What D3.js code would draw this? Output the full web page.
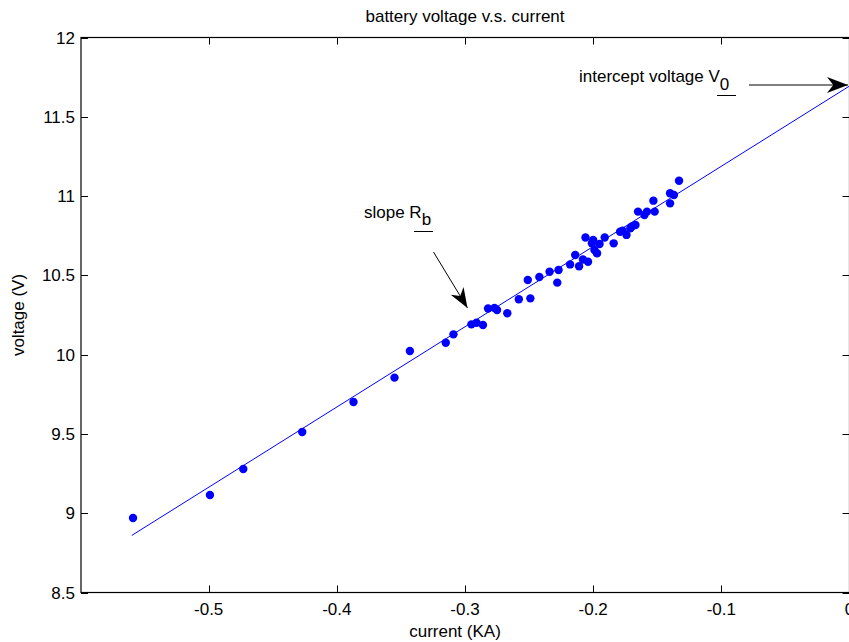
<!DOCTYPE html>
<html>
<head>
<meta charset="utf-8">
<script src="https://cdn.jsdelivr.net/npm/d3@7"></script>
<style>
html,body{margin:0;padding:0;background:#fff;overflow:hidden;}
text{font-family:"Liberation Sans",Arial,Helvetica,sans-serif;fill:#000;}
</style>
</head>
<body>
<svg id="chart" width="849" height="642"></svg>
<script>
// measured data: current (KA) and battery voltage (V)
const current = [-0.559,-0.499,-0.473,-0.427,-0.387,-0.355,-0.343,-0.315,-0.309,-0.295,-0.291,-0.286,-0.282,-0.277,-0.275,-0.267,-0.258,-0.251,-0.249,-0.242,-0.234,-0.228,-0.227,-0.218,-0.214,-0.211,-0.208,-0.206,-0.204,-0.201,-0.200,-0.199,-0.197,-0.195,-0.191,-0.184,-0.179,-0.177,-0.174,-0.171,-0.170,-0.167,-0.165,-0.160,-0.158,-0.153,-0.152,-0.140,-0.140,-0.137,-0.133];
const voltage = [8.970,9.115,9.279,9.512,9.701,9.855,10.023,10.075,10.128,10.191,10.201,10.187,10.291,10.294,10.282,10.261,10.349,10.471,10.355,10.490,10.523,10.454,10.534,10.569,10.628,10.557,10.600,10.739,10.586,10.702,10.723,10.660,10.639,10.698,10.739,10.702,10.775,10.782,10.755,10.797,10.807,10.818,10.902,10.881,10.902,10.971,10.902,10.954,11.018,11.007,11.097];
// least squares fit line
const fitCurrent = [-0.56, 0.0];
const fitVoltage = [8.86, 11.694];
// axes
const xDomain = [-0.6, 0.0];
const yDomain = [8.5, 12];
const xTicks = [-0.5, -0.4, -0.3, -0.2, -0.1, 0];
const xTickLabels = ["-0.5", "-0.4", "-0.3", "-0.2", "-0.1", "0"];
const yTicks = [8.5, 9, 9.5, 10, 10.5, 11, 11.5, 12];
const yTickLabels = ["8.5", "9", "9.5", "10", "10.5", "11", "11.5", "12"];
const titleText = "battery voltage v.s. current";
const xLabelText = "current (KA)";
const yLabelText = "voltage (V)";

const L = 81, R = 849.5, T = 37.5, B = 592.5;
const FS = 17;
const svg = d3.select("#chart");
const x = d3.scaleLinear().domain(xDomain).range([80.5, R]);
const y = d3.scaleLinear().domain(yDomain).range([B, T]);

// frame
const g = svg.append("g");
g.append("rect").attr("x", L).attr("y", T).attr("width", R - L).attr("height", B - T)
  .attr("fill", "none").attr("stroke", "#000").attr("stroke-width", 1.2);

// ticks (inward, MATLAB style)
const tl = 7;
xTicks.forEach((v, i) => {
  const px = Math.round(x(v)) + 0.5;
  g.append("line").attr("x1", px).attr("x2", px).attr("y1", B).attr("y2", B - tl).attr("stroke", "#000");
  g.append("line").attr("x1", px).attr("x2", px).attr("y1", T).attr("y2", T + tl).attr("stroke", "#000");
  g.append("text").attr("x", x(v)).attr("y", B + 22).attr("text-anchor", "middle")
    .attr("font-size", FS).text(xTickLabels[i]);
});
yTicks.forEach((v, i) => {
  const py = Math.round(y(v)) + 0.5;
  g.append("line").attr("x1", L).attr("x2", L + tl).attr("y1", py).attr("y2", py).attr("stroke", "#000");
  g.append("line").attr("x1", R).attr("x2", R - tl).attr("y1", py).attr("y2", py).attr("stroke", "#000");
  g.append("text").attr("x", L - 6).attr("y", y(v)).attr("dy", "0.36em").attr("text-anchor", "end")
    .attr("font-size", FS).text(yTickLabels[i]);
});

// fit line
const line = d3.line().x(d => x(d[0])).y(d => y(d[1]));
svg.append("path").datum(d3.zip(fitCurrent, fitVoltage)).attr("d", line)
  .attr("fill", "none").attr("stroke", "#0000ff").attr("stroke-width", 1);

// points
svg.append("g").selectAll("circle").data(d3.zip(current, voltage)).join("circle")
  .attr("cx", d => x(d[0])).attr("cy", d => y(d[1])).attr("r", 4.2).attr("fill", "#0000ff");

// labels
svg.append("text").attr("x", (80.5 + R) / 2).attr("y", 22).attr("text-anchor", "middle")
  .attr("font-size", FS).text(titleText);
svg.append("text").attr("x", 455).attr("y", 637).attr("text-anchor", "middle")
  .attr("font-size", FS).text(xLabelText);
svg.append("text").attr("transform", "translate(24," + ((T + B) / 2) + ") rotate(-90)")
  .attr("text-anchor", "middle").attr("font-size", FS).text(yLabelText);

// annotations
function arrow(x1, y1, x2, y2, len, w) {
  svg.append("line").attr("x1", x1).attr("y1", y1).attr("x2", x2).attr("y2", y2)
    .attr("stroke", "#000").attr("stroke-width", 1);
  const a = Math.atan2(y2 - y1, x2 - x1);
  const pts = [[0, 0], [-len, -w], [-len * 0.7, 0], [-len, w]];
  svg.append("path")
    .attr("d", "M" + pts.map(p => p.join(",")).join("L") + "Z")
    .attr("transform", "translate(" + x2 + "," + y2 + ") rotate(" + (a * 180 / Math.PI) + ")")
    .attr("fill", "#000");
}
// intercept voltage V0
const t1 = svg.append("text").attr("x", 579).attr("y", 82).attr("font-size", FS);
t1.append("tspan").text("intercept voltage V");
t1.append("tspan").attr("dy", 8).attr("font-size", FS).text("0");
svg.append("line").attr("x1", 717).attr("x2", 736).attr("y1", 95.5).attr("y2", 95.5).attr("stroke", "#000");
arrow(749, 85, 848, 85, 21, 8);

// slope Rb
const t2 = svg.append("text").attr("x", 364).attr("y", 218).attr("font-size", FS);
t2.append("tspan").text("slope R");
t2.append("tspan").attr("dy", 7).attr("font-size", FS).text("b");
svg.append("line").attr("x1", 414).attr("x2", 433).attr("y1", 231.5).attr("y2", 231.5).attr("stroke", "#000");
arrow(433.5, 252, 467.5, 308, 20, 7.5);
</script>
</body>
</html>
